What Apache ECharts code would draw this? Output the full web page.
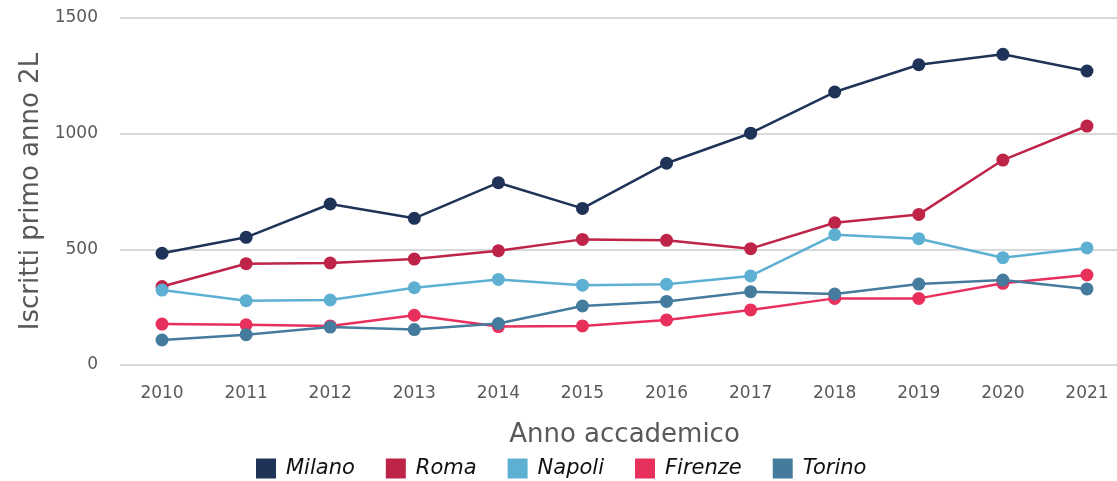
<!DOCTYPE html>
<html>
<head>
<meta charset="utf-8">
<script src="https://cdn.jsdelivr.net/npm/echarts@6/dist/echarts.min.js"></script>
<style>html,body{margin:0;padding:0;background:#fff}#c{width:1117px;height:481px}</style>
</head>
<body>
<div id="c"></div>
<script>
const years = ['2010','2011','2012','2013','2014','2015','2016','2017','2018','2019','2020','2021'];
const seriesNames = ['Milano','Roma','Napoli','Firenze','Torino'];
const milano  = [483, 552, 696, 634, 788, 677, 872, 1002, 1180, 1298, 1343, 1271];
const roma    = [339, 438, 441, 458, 494, 543, 539, 503, 615, 651, 886, 1033];
const napoli  = [324, 278, 281, 334, 370, 345, 349, 385, 563, 546, 464, 506];
const firenze = [177, 174, 169, 215, 166, 169, 195, 238, 288, 288, 353, 389];
const torino  = [108, 131, 164, 153, 179, 255, 275, 317, 307, 350, 367, 329];
const colors = ['#1f3358', '#be2448', '#5eb0d3', '#e8305c', '#457b9d'];
const values = [milano, roma, napoli, firenze, torino];
const font = "'DejaVu Sans', sans-serif";

const chart = echarts.init(document.getElementById('c'), null, {renderer: 'canvas'});
chart.setOption({
  animation: false,
  color: colors,
  textStyle: {fontFamily: font},
  grid: {left: 120, width: 1009, top: 18, height: 347, outerBoundsMode: 'none', containLabel: false},
  legend: {
    bottom: 2, left: 256, padding: 0,
    itemWidth: 20, itemHeight: 20, itemGap: 31,
    icon: 'rect',
    textStyle: {fontFamily: font, fontSize: 21, fontStyle: 'italic', color: '#111', padding: [0, 0, 0, 5]},
    data: seriesNames
  },
  xAxis: {
    type: 'category', data: years, boundaryGap: true,
    axisLine: {show: false}, axisTick: {show: false},
    axisLabel: {fontSize: 17, color: '#595959', margin: 20, fontFamily: font},
    name: 'Anno accademico', nameLocation: 'middle', nameGap: 57,
    nameTextStyle: {fontSize: 26, color: '#595959', fontFamily: font}
  },
  yAxis: {
    type: 'value', min: 0, max: 1500, interval: 500,
    axisLabel: {fontSize: 17, color: '#595959', margin: 22, fontFamily: font,
      formatter: v => String(v)},
    splitLine: {lineStyle: {color: '#d9d9d9', width: 2}},
    name: 'Iscritti primo anno 2L', nameLocation: 'middle', nameGap: 72,
    nameTextStyle: {fontSize: 26, color: '#595959', fontFamily: font}
  },
  series: seriesNames.map((n, i) => ({
    name: n, type: 'line', data: values[i],
    symbol: 'circle', symbolSize: 13,
    lineStyle: {width: 2.5, color: colors[i]},
    itemStyle: {color: colors[i]}
  }))
});
</script>
</body>
</html>
